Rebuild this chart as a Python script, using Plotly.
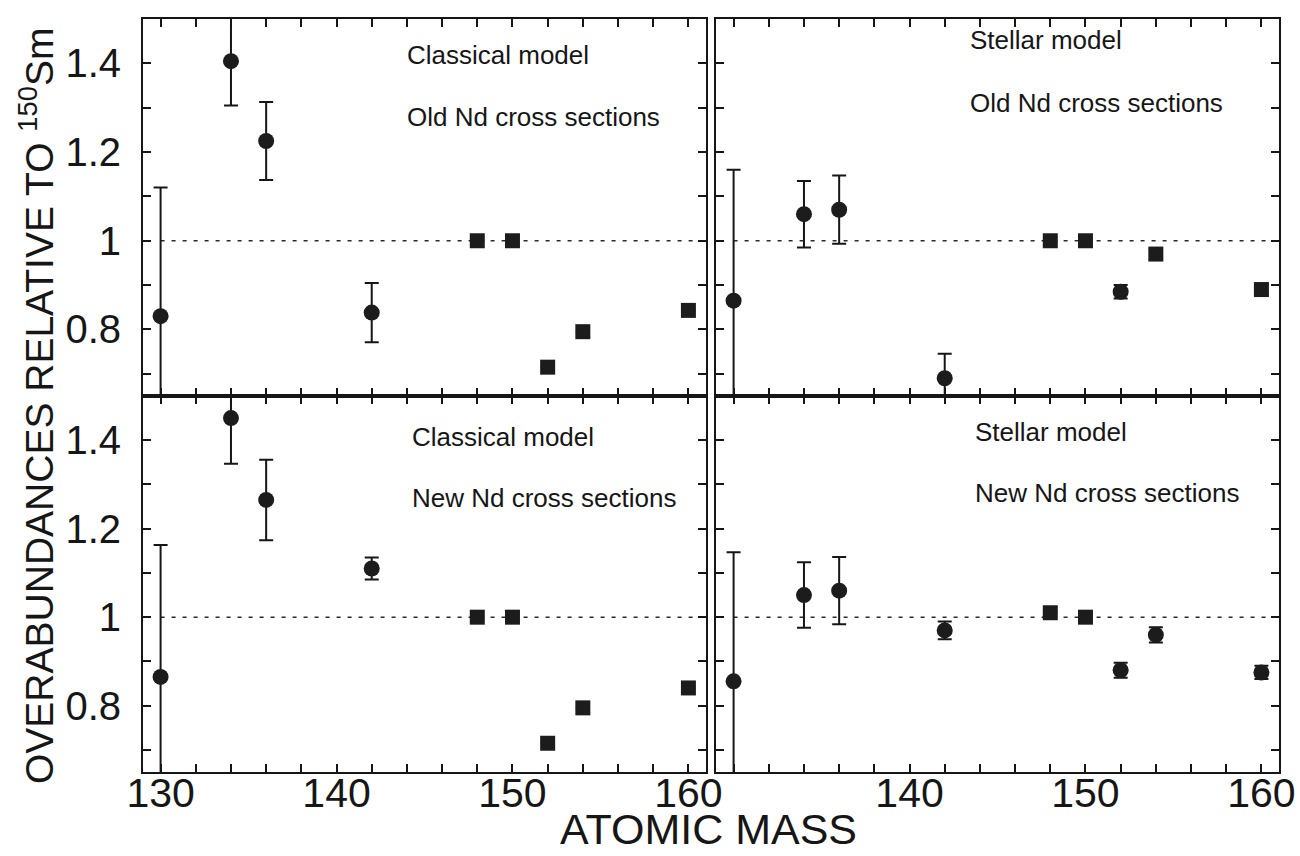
import plotly.graph_objects as go

# ---------------- data ----------------
atomic_mass = [130, 134, 136, 142, 148, 150, 152, 154, 160]

classical_old = [0.83, 1.405, 1.225, 0.838, 1.0, 1.0, 0.715, 0.795, 0.843]
classical_old_err = [0.29, 0.10, 0.088, 0.067, None, None, None, None, None]

stellar_old = [0.865, 1.06, 1.07, 0.69, 1.0, 1.0, 0.885, 0.97, 0.89]
stellar_old_err = [0.295, 0.075, 0.077, 0.055, None, None, 0.015, 0.012, 0.012]

classical_new = [0.865, 1.45, 1.265, 1.11, 1.0, 1.0, 0.715, 0.795, 0.84]
classical_new_err = [0.298, 0.103, 0.091, 0.025, None, None, None, None, None]

stellar_new = [0.855, 1.05, 1.06, 0.97, 1.01, 1.0, 0.88, 0.96, 0.875]
stellar_new_err = [0.292, 0.074, 0.076, 0.02, None, None, 0.017, 0.017, 0.015]

x_tickvals = [130, 132, 134, 136, 138, 140, 142, 144, 146, 148, 150, 152, 154, 156, 158, 160]
x_ticktext_left = ["130", "", "", "", "", "140", "", "", "", "", "150", "", "", "", "", "160"]
x_ticktext_right = ["", "", "", "", "", "140", "", "", "", "", "150", "", "", "", "", "160"]
y_tickvals = [0.7, 0.8, 0.9, 1.0, 1.1, 1.2, 1.3, 1.4, 1.5]
y_ticktext = ["", "0.8", "", "1", "", "1.2", "", "1.4", ""]

panel_labels = [
    ("Classical model", "Old Nd cross sections"),
    ("Stellar model", "Old Nd cross sections"),
    ("Classical model", "New Nd cross sections"),
    ("Stellar model", "New Nd cross sections"),
]

# ---------------- styles ----------------
W, H = 1300, 856
FONT = "Liberation Sans, Arial, Helvetica, sans-serif"
INK = "#161616"
C, S = "circle", "square"
symbols = [
    [C, C, C, C, S, S, S, S, S],
    [C, C, C, C, S, S, C, S, S],
    [C, C, C, C, S, S, S, S, S],
    [C, C, C, C, S, S, C, C, C],
]
sizes = [
    [16, 16, 16, 16, 15, 15, 15, 15, 15],
    [16, 16, 16, 16, 15, 15, 16, 15, 15],
    [16, 16, 16, 16, 15, 15, 15, 15, 15],
    [16, 16, 16, 16, 15, 15, 16, 16, 16],
]

# panel pixel boxes (left, top, right, bottom)
boxes = [
    (143, 19, 706, 396),
    (716, 19, 1279, 396),
    (143, 396, 706, 772),
    (716, 396, 1279, 772),
]

series = [
    (classical_old, classical_old_err),
    (stellar_old, stellar_old_err),
    (classical_new, classical_new_err),
    (stellar_new, stellar_new_err),
]

fig = go.Figure()
layout = dict(
    width=W, height=H,
    margin=dict(l=0, r=0, t=0, b=0, autoexpand=False),
    paper_bgcolor="white", plot_bgcolor="white",
    showlegend=False,
    font=dict(family=FONT, color=INK),
)

shapes = []
annotations = []
for i, ((vals, errs), box) in enumerate(zip(series, boxes)):
    n = i + 1
    xa = "x" if n == 1 else f"x{n}"
    ya = "y" if n == 1 else f"y{n}"
    xkey = "xaxis" if n == 1 else f"xaxis{n}"
    ykey = "yaxis" if n == 1 else f"yaxis{n}"
    l, t, r, b = box
    is_bottom = i >= 2
    is_left = i % 2 == 0

    layout[xkey] = dict(
        domain=[l / W, r / W], anchor=ya, range=[129, 161],
        tickmode="array", tickvals=x_tickvals,
        ticktext=(x_ticktext_left if is_left else x_ticktext_right),
        showticklabels=is_bottom, automargin=False,
        ticks="inside", ticklen=8, tickwidth=1.5, tickcolor=INK,
        showline=True, linecolor=INK, linewidth=2, mirror="ticks",
        showgrid=False, zeroline=False,
        tickfont=dict(size=41, family=FONT, color=INK),
        ticklabelstandoff=-16,
    )
    layout[ykey] = dict(
        domain=[1 - b / H, 1 - t / H], anchor=xa, range=[0.65, 1.5],
        tickmode="array", tickvals=y_tickvals, ticktext=y_ticktext,
        showticklabels=is_left, automargin=False,
        ticks="inside", ticklen=8, tickwidth=1.5, tickcolor=INK,
        showline=True, linecolor=INK, linewidth=2, mirror="ticks",
        showgrid=False, zeroline=False,
        tickfont=dict(size=40, family=FONT, color=INK),
        ticklabelstandoff=12,
    )

    shapes.append(dict(
        type="line", xref=xa, yref=ya, x0=130, x1=161, y0=1, y1=1,
        line=dict(color="#2a2a2a", width=1.5, dash="4px,7px"), layer="below",
    ))

    fig.add_trace(go.Scatter(
        x=atomic_mass, y=vals, xaxis=xa, yaxis=ya, mode="markers",
        marker=dict(symbol=symbols[i], size=sizes[i], color="#1c1c1c",
                    opacity=1, line=dict(width=0)),
        error_y=dict(type="data", array=errs, visible=True,
                     color=INK, thickness=2, width=7),
        cliponaxis=True,
    ))

    lab1, lab2 = panel_labels[i]
    if i == 0:
        tx, y1, y2 = 405, 55, 117
    elif i == 1:
        tx, y1, y2 = 968, 40, 103
    elif i == 2:
        tx, y1, y2 = 410, 437, 498
    else:
        tx, y1, y2 = 973, 432, 493
    for txt, ty in ((lab1, y1), (lab2, y2)):
        annotations.append(dict(
            text=txt, x=tx / W, y=1 - ty / H, xref="paper", yref="paper",
            xanchor="left", yanchor="middle", showarrow=False,
            font=dict(size=26, family=FONT, color=INK),
        ))

annotations.append(dict(
    text="ATOMIC MASS", x=708 / W, y=0, xref="paper", yref="paper",
    xanchor="center", yanchor="bottom", showarrow=False, yshift=1,
    font=dict(size=43, family=FONT, color=INK),
))
annotations.append(dict(
    text="OVERABUNDANCES RELATIVE TO <sup>150</sup>Sm",
    x=36 / W, y=1 - 406 / H, xref="paper", yref="paper",
    xanchor="center", yanchor="middle", showarrow=False, textangle=-90,
    font=dict(size=39, family=FONT, color=INK),
))

layout["shapes"] = shapes
layout["annotations"] = annotations
fig.update_layout(**layout)

fig.write_html("out.html")
